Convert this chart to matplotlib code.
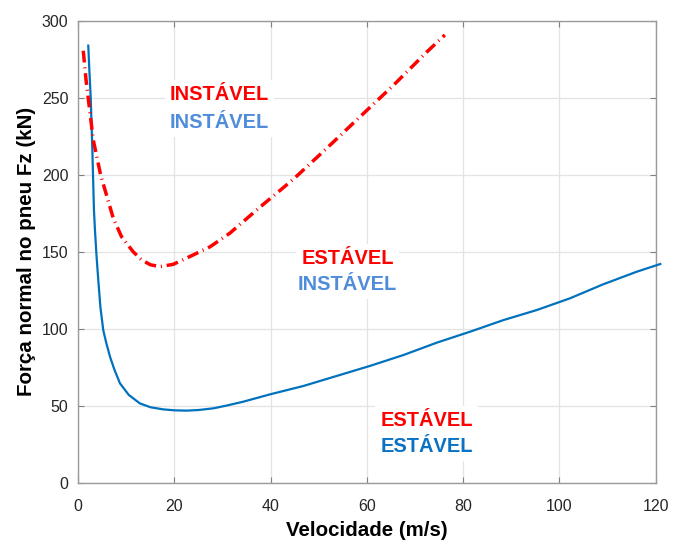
import matplotlib
matplotlib.use("Agg")
import matplotlib.pyplot as plt

plt.rcParams["font.family"] = ["Liberation Sans", "DejaVu Sans"]

# ---------------- DATA ----------------
# blue curve (solid)
v_blue = [2.08, 2.3, 2.58, 2.91, 3.26, 3.47, 3.8, 4.16, 4.6, 5.2, 5.8, 6.6, 7.5, 8.67,
          10.5, 12.8, 15, 17.7, 20, 22.5, 25, 28.1, 31, 34.3, 39.9, 46.8, 53.7, 60.6,
          67.6, 74.5, 81.4, 88.4, 95.3, 102.2, 109.1, 116.1, 121]
fz_blue = [283.8, 268, 250.6, 218, 177, 164, 147, 131.6, 114, 99, 91, 81.8, 73.5, 64.5,
           57, 51.5, 49, 47.6, 47, 46.8, 47.2, 48.3, 50.2, 52.6, 57.4, 62.8, 69.3, 75.8,
           82.9, 90.9, 98, 105.6, 112.1, 119.7, 128.8, 137, 142]

# red curve (dash-dot)
v_red = [1.04, 1.6, 2.29, 3.12, 4.65, 7.28, 9.0, 11.4, 13.2, 15, 17, 19.75, 23.9, 27.4,
         31.5, 37.8, 44.7, 51.6, 58.6, 65.5, 72.4, 76.2]
fz_red = [280.5, 262, 244, 222.5, 199.8, 171.7, 159.7, 150, 144.6, 141.5, 140.3, 141.8,
          147.9, 153.2, 162, 179, 197, 217, 237.7, 258, 279.5, 290.7]

# region labels: (x, y, red text, blue text)
labels_x = [29.4, 56.0, 72.4]
labels_red_y = [252, 145.4, 40.4]
labels_blue_y = [234, 128.7, 23.5]
labels_red = ["INSTÁVEL", "ESTÁVEL", "ESTÁVEL"]
labels_blue = ["INSTÁVEL", "INSTÁVEL", "ESTÁVEL"]
blue_text_colors = ["#4f8ddb", "#4f8ddb", "#0a72c4"]

xticks = [0, 20, 40, 60, 80, 100, 120]
yticks = [0, 50, 100, 150, 200, 250, 300]

# ---------------- PLOT ----------------
fig = plt.figure(figsize=(6.73, 5.4), dpi=100)
ax = fig.add_axes([0.1163, 0.1061, 0.8577, 0.8556])

ax.plot(v_blue, fz_blue, color="#0072BD", lw=1.6, zorder=3, clip_on=False)
ax.plot(v_red, fz_red, color="#ff0000", lw=2.5, linestyle=(0, (3.4, 1.4, 0.3, 1.4)), zorder=3)

box = dict(boxstyle="square,pad=0.25", facecolor="white", edgecolor="none")
for x, yr, yb, tr, tb, cb in zip(labels_x, labels_red_y, labels_blue_y,
                                 labels_red, labels_blue, blue_text_colors):
    ax.text(x, yr, tr, color="#ff0000", fontsize=14.4, fontweight="bold",
            ha="center", va="center", bbox=box, zorder=4)
    ax.text(x, yb, tb, color=cb, fontsize=14.4, fontweight="bold",
            ha="center", va="center", bbox=box, zorder=4)

ax.set_xlim(0, 120)
ax.set_ylim(0, 300)
ax.set_xticks(xticks)
ax.set_yticks(yticks)
ax.grid(True, color="#e3e3e3", lw=0.9)
ax.set_axisbelow(True)
ax.tick_params(direction="in", top=True, right=True, length=4, width=0.8,
               color="#808080", labelsize=11.5, labelcolor="#262626", pad=7)
ax.tick_params(axis="x", pad=12)
for s in ax.spines.values():
    s.set_color("#9a9a9a")
    s.set_linewidth(1.0)

ax.set_xlabel("Velocidade (m/s)", fontsize=14.8, fontweight="bold", labelpad=5)
ax.set_ylabel("Força normal no pneu Fz (kN)", fontsize=14.8, fontweight="bold", labelpad=4)

fig.savefig("out.png", dpi=100)
